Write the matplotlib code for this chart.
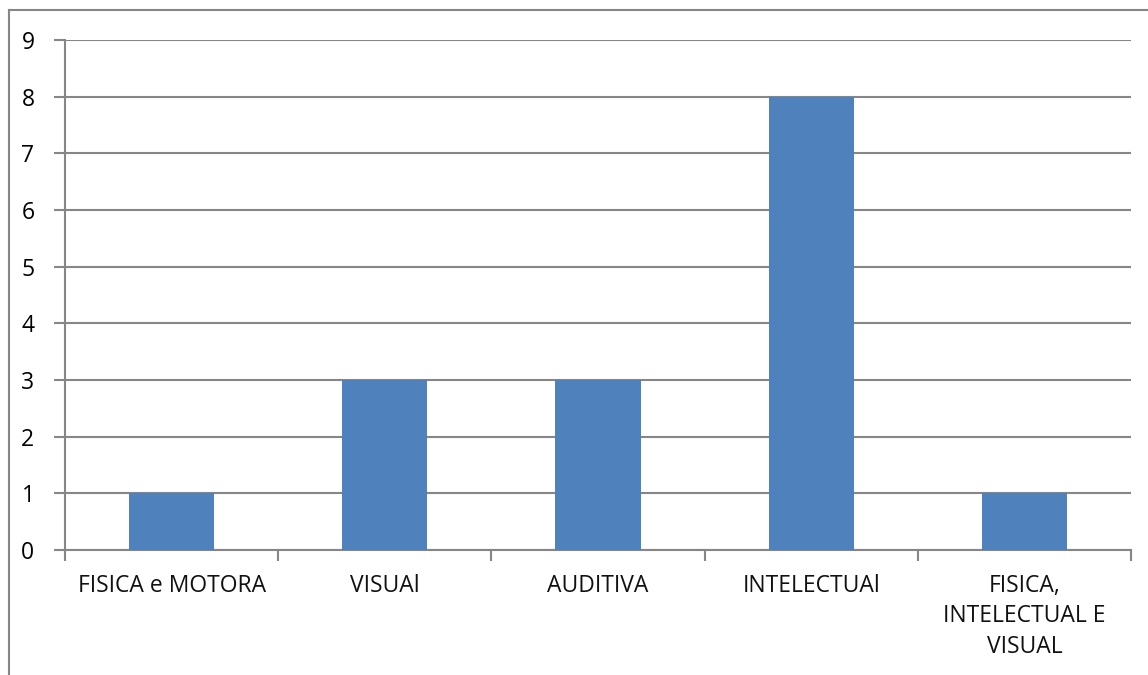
import numpy as np
import matplotlib.pyplot as plt
from matplotlib.lines import Line2D

categories = ["FISICA e MOTORA", "VISUAl", "AUDITIVA", "INTELECTUAl", "FISICA,\nINTELECTUAL E\nVISUAL"]
values = [1, 3, 3, 8, 1]
y_ticks = list(range(0, 10))

BAR = "#4F81BD"
GRID = "#868686"

plt.rcParams['font.family'] = ['Open Sans', 'DejaVu Sans']

fig = plt.figure(figsize=(11.48, 6.75), dpi=100)
ax = fig.add_axes([65/1148, 1 - 550/675, (1131 - 65)/1148, (550 - 40)/675])

x = np.arange(len(categories))
ax.bar(x, values, width=0.4, color=BAR, zorder=3)

ax.set_xlim(-0.5, len(categories) - 0.5)
ax.set_ylim(0, 9)
ax.set_yticks(y_ticks)
ax.yaxis.grid(True, color=GRID, linewidth=1.5, zorder=0)
ax.set_axisbelow(True)

# category labels centred, tick marks at category boundaries
ax.set_xticks(x)
ax.set_xticklabels(categories, fontsize=16.5, color="#111111", linespacing=1.38, va="top")
ax.tick_params(axis="x", which="major", length=0, pad=17)
ax.set_xticks(np.arange(-0.5, len(categories)), minor=True)
ax.tick_params(axis="x", which="minor", length=8, width=1.5, color=GRID)
ax.tick_params(axis="y", length=8, width=1.5, color=GRID, labelsize=16.5, pad=14)

for side in ["top", "right"]:
    ax.spines[side].set_visible(False)
for side in ["left", "bottom"]:
    ax.spines[side].set_color(GRID)
    ax.spines[side].set_linewidth(1.5)

# chart area border (only top and left visible)
fig.add_artist(Line2D([9/1148, 9/1148], [0, 1 - 10/675], transform=fig.transFigure, color=GRID, linewidth=1.5))
fig.add_artist(Line2D([9/1148, 1], [1 - 10/675, 1 - 10/675], transform=fig.transFigure, color=GRID, linewidth=1.5))

fig.savefig("out.png", dpi=100, facecolor="white")
